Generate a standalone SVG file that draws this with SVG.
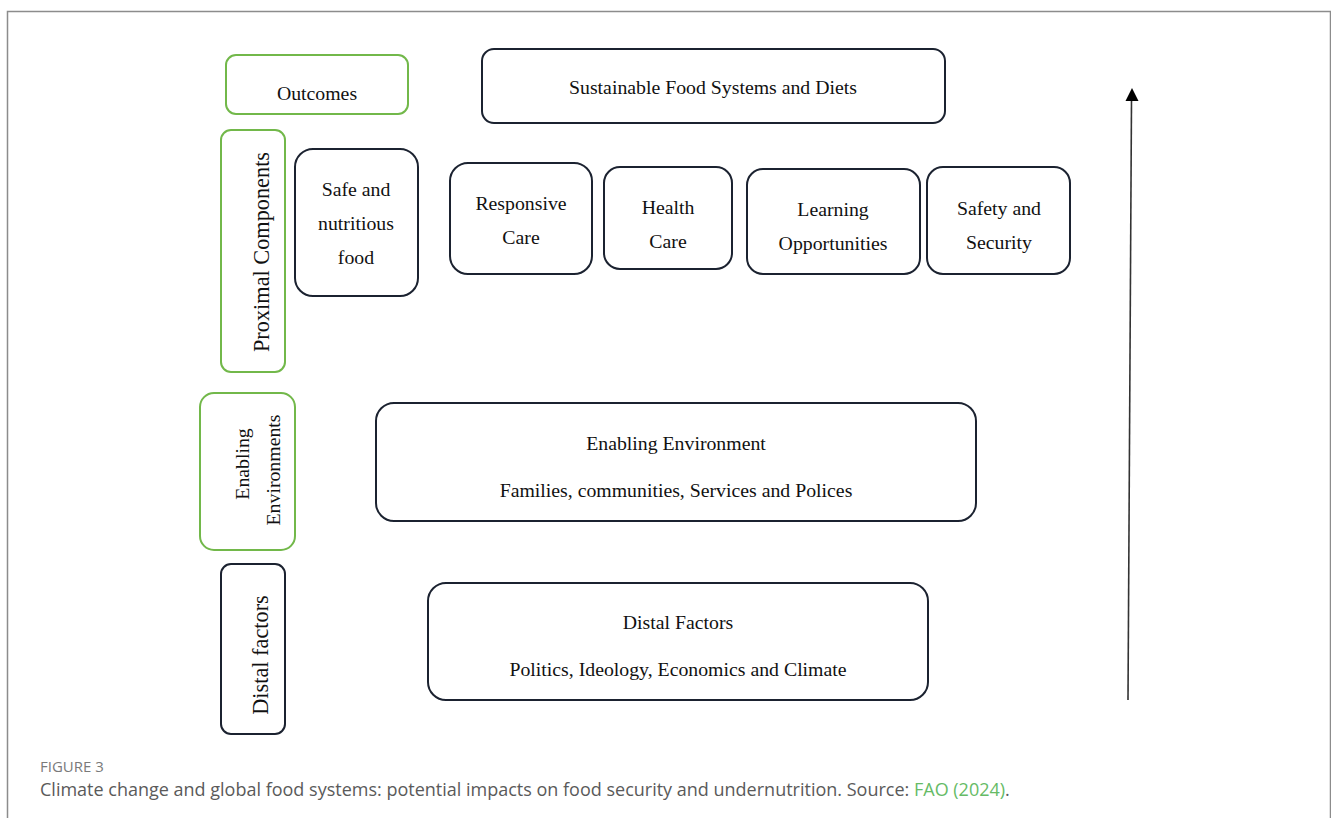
<svg xmlns="http://www.w3.org/2000/svg" width="1331" height="818" viewBox="0 0 1331 818">
  <defs>
    <style>
      .frame { fill: none; stroke: #8c8c8c; stroke-width: 1.5; }
      .box { fill: #ffffff; stroke: #1b2230; stroke-width: 2; }
      .gbox { fill: #ffffff; stroke: #72b84a; stroke-width: 2; }
      .t { font-family: "Liberation Serif", "Times New Roman", serif; font-size: 19.8px; fill: #111111; text-anchor: middle; }
      .side { font-family: "Liberation Serif", "Times New Roman", serif; font-size: 22.3px; fill: #111111; text-anchor: middle; }
      .side2 { font-family: "Liberation Serif", "Times New Roman", serif; font-size: 19.8px; fill: #111111; text-anchor: middle; }
      .fig { font-family: "Open Sans", Lato, sans-serif; font-size: 15px; fill: #7a7a7a; }
      .cap { font-family: "Open Sans", Lato, sans-serif; font-size: 18px; fill: #5a5a5a; }
      .link { fill: #66bb66; }
      .axis { stroke: #333333; stroke-width: 1.6; fill: none; }
    </style>
  </defs>

  <rect width="1331" height="818" fill="#ffffff"/>
  <path class="frame" d="M7.5 830 V11.5 H1330.5 V830"/>

  <!-- level labels -->
  <g id="label-outcomes">
    <rect class="gbox" x="226" y="55" width="182" height="59" rx="10"/>
    <text class="t" x="317" y="100">Outcomes</text>
  </g>
  <g id="label-proximal">
    <rect class="gbox" x="221" y="130" width="64" height="242" rx="10"/>
    <text class="side" transform="translate(269 252) rotate(-90)">Proximal Components</text>
  </g>
  <g id="label-enabling">
    <rect class="gbox" x="200" y="393" width="95" height="157" rx="14"/>
    <text class="side2" transform="translate(249 464) rotate(-90)">Enabling</text>
    <text class="side2" transform="translate(280 470) rotate(-90)">Environments</text>
  </g>
  <g id="label-distal">
    <rect class="box" x="221" y="564" width="64" height="170" rx="10"/>
    <text class="side" transform="translate(268 655) rotate(-90)">Distal factors</text>
  </g>

  <!-- outcome -->
  <g id="node-sustainable">
    <rect class="box" x="482" y="49" width="463" height="74" rx="12"/>
    <text class="t" x="713" y="94">Sustainable Food Systems and Diets</text>
  </g>

  <!-- proximal components -->
  <g id="node-food">
    <rect class="box" x="295" y="149" width="123" height="147" rx="18"/>
    <text class="t" x="356" y="196">Safe and</text>
    <text class="t" x="356" y="230">nutritious</text>
    <text class="t" x="356" y="264">food</text>
  </g>
  <g id="node-responsive">
    <rect class="box" x="450" y="163" width="142" height="111" rx="18"/>
    <text class="t" x="521" y="210">Responsive</text>
    <text class="t" x="521" y="244">Care</text>
  </g>
  <g id="node-health">
    <rect class="box" x="604" y="167" width="128" height="102" rx="16"/>
    <text class="t" x="668" y="214">Health</text>
    <text class="t" x="668" y="248">Care</text>
  </g>
  <g id="node-learning">
    <rect class="box" x="747" y="169" width="173" height="105" rx="16"/>
    <text class="t" x="833" y="216">Learning</text>
    <text class="t" x="833" y="250">Opportunities</text>
  </g>
  <g id="node-safety">
    <rect class="box" x="927" y="167" width="143" height="107" rx="16"/>
    <text class="t" x="999" y="215">Safety and</text>
    <text class="t" x="999" y="249">Security</text>
  </g>

  <!-- enabling environment -->
  <g id="node-enabling">
    <rect class="box" x="376" y="403" width="600" height="118" rx="18"/>
    <text class="t" x="676" y="450">Enabling Environment</text>
    <text class="t" x="676" y="497">Families, communities, Services and Polices</text>
  </g>

  <!-- distal factors -->
  <g id="node-distal">
    <rect class="box" x="428" y="583" width="500" height="117" rx="18"/>
    <text class="t" x="678" y="629">Distal Factors</text>
    <text class="t" x="678" y="676">Politics, Ideology, Economics and Climate</text>
  </g>

  <!-- upward axis -->
  <g id="connectors">
    <line class="axis" x1="1128" y1="700" x2="1131.5" y2="100"/>
    <polygon points="1132,88 1125.5,101 1138.5,101" fill="#000000"/>
  </g>

  <!-- caption -->
  <g id="caption">
    <text class="fig" x="40" y="772">FIGURE 3</text>
    <text class="cap" x="40" y="796">Climate change and global food systems: potential impacts on food security and undernutrition. Source: <tspan class="link">FAO (2024)</tspan>.</text>
  </g>
</svg>
